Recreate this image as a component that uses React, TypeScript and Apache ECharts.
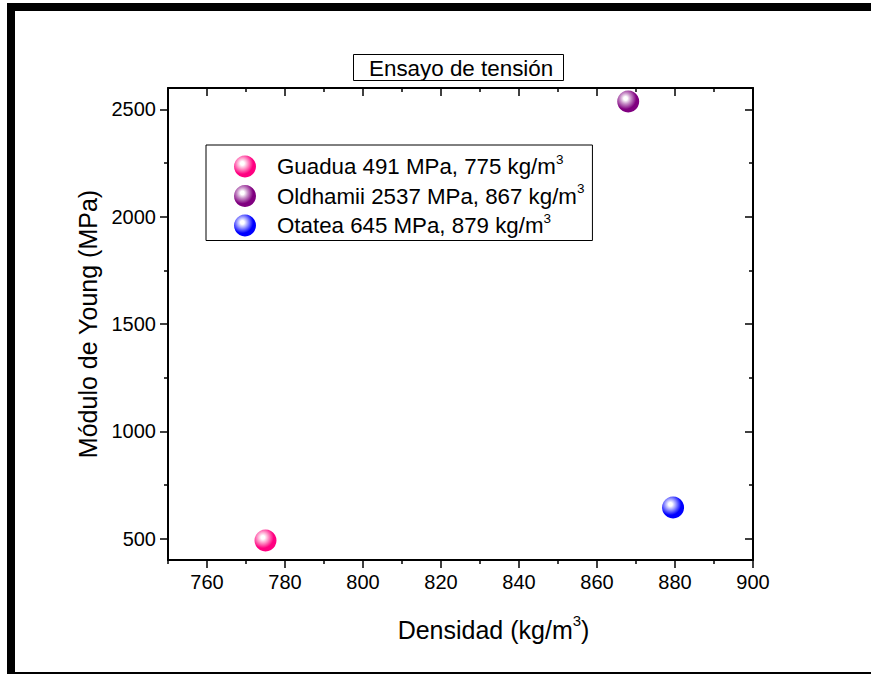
import React, { useEffect, useRef } from "react";
import * as echarts from "echarts";

const speciesNames = ["Guadua", "Oldhamii", "Otatea"];
const densities = [775, 868, 879.5];
const youngModulus = [491, 2537, 645];
const legendTexts = [
  "Guadua 491 MPa, 775 kg/m",
  "Oldhamii 2537 MPa, 867 kg/m",
  "Otatea 645 MPa, 879 kg/m",
];
const baseColors = ["#FF0080", "#800080", "#0000FF"];
const lightColors = ["#FF9CCB", "#C890C8", "#9C9CFF"];

const xMajorTicks = [760, 780, 800, 820, 840, 860, 880, 900];
const xMinorTicks = [750, 770, 790, 810, 830, 850, 870, 890];
const yMajorTicks = [500, 1000, 1500, 2000, 2500];
const yMinorTicks = [750, 1250, 1750, 2250];

const FONT = "'Liberation Sans', Arial, sans-serif";

export default function App() {
  const ref = useRef<HTMLDivElement>(null);
  useEffect(() => {
    if (!ref.current) return;
    const chart = echarts.init(ref.current, null, { renderer: "svg" });

    const axisLine = { show: true, lineStyle: { color: "#000", width: 2 } };
    const tickStyle = { color: "#000", width: 1.5 };
    const xBase = { type: "value", min: 750, max: 900, splitLine: { show: false } };
    const yBase = { type: "value", min: 400, max: 2600, splitLine: { show: false } };

    const gradient = (i: number) => ({
      type: "radial",
      x: 0.38,
      y: 0.36,
      r: 0.7,
      colorStops: [
        { offset: 0, color: "#FFFFFF" },
        { offset: 0.12, color: "#FFFFFF" },
        { offset: 0.35, color: lightColors[i] },
        { offset: 0.7, color: baseColors[i] },
        { offset: 1, color: baseColors[i] },
      ],
    });

    chart.setOption({
      animation: false,
      backgroundColor: "#fff",
      textStyle: { fontFamily: FONT, color: "#000" },
      title: {
        text: "Ensayo de tensión",
        left: 353,
        top: 54,
        padding: [3, 11, 2, 16],
        borderColor: "#000",
        borderWidth: 1,
        textStyle: { fontFamily: FONT, fontSize: 22.4, fontWeight: "normal", color: "#000" },
      },
      graphic: [
        { type: "rect", shape: { x: 7, y: 3, width: 864, height: 8 }, style: { fill: "#000" } },
        { type: "rect", shape: { x: 7, y: 3, width: 8, height: 671 }, style: { fill: "#000" } },
        { type: "rect", shape: { x: 15, y: 672, width: 856, height: 2 }, style: { fill: "#000" } },
      ],
      legend: {
        orient: "vertical",
        left: 206,
        top: 145,
        padding: [7, 8, 4, 28],
        borderColor: "#000",
        borderWidth: 1,
        itemWidth: 54,
        itemHeight: 22,
        itemGap: 4,
        icon: "circle",
        data: speciesNames,
        formatter: (name: string) => {
          const i = speciesNames.indexOf(name);
          return `{t|${legendTexts[i]}}{s|3}`;
        },
        textStyle: {
          fontFamily: FONT,
          color: "#000",
          rich: {
            t: { fontSize: 22.3, fontFamily: FONT, color: "#000", lineHeight: 29 },
            s: { fontSize: 13.5, fontFamily: FONT, color: "#000", verticalAlign: "top", lineHeight: 14 },
          },
        },
      },
      grid: { left: 168, top: 88, right: 118, bottom: 114, containLabel: false },
      xAxis: [
        {
          ...xBase,
          position: "bottom",
          axisLine,
          axisTick: { show: true, inside: false, length: 8, lineStyle: tickStyle, customValues: xMajorTicks },
          axisLabel: { show: true, customValues: xMajorTicks, fontSize: 20, fontFamily: FONT, color: "#000", margin: 12, formatter: (v: number) => String(v) },
          name: "{t|Densidad (kg/m}{s|3}{t|)}",
          nameLocation: "middle",
          nameGap: 53,
          nameTextStyle: {
            padding: [0, 0, 0, 66],
            rich: {
              t: { fontSize: 25, fontFamily: FONT, color: "#000", lineHeight: 34 },
              s: { fontSize: 15, fontFamily: FONT, color: "#000", verticalAlign: "top", lineHeight: 15 },
            },
          },
        },
        {
          ...xBase,
          position: "bottom",
          axisLine: { show: false },
          axisTick: { show: true, inside: false, length: 4, lineStyle: tickStyle, customValues: xMinorTicks },
          axisLabel: { show: false },
        },
        {
          ...xBase,
          position: "top",
          axisLine,
          axisTick: { show: true, inside: true, length: 8, lineStyle: tickStyle, customValues: xMajorTicks },
          axisLabel: { show: false },
        },
        {
          ...xBase,
          position: "top",
          axisLine: { show: false },
          axisTick: { show: true, inside: true, length: 4, lineStyle: tickStyle, customValues: xMinorTicks },
          axisLabel: { show: false },
        },
      ],
      yAxis: [
        {
          ...yBase,
          position: "left",
          axisLine,
          axisTick: { show: true, inside: false, length: 8, lineStyle: tickStyle, customValues: yMajorTicks },
          axisLabel: { show: true, customValues: yMajorTicks, fontSize: 20, fontFamily: FONT, color: "#000", margin: 12, formatter: (v: number) => String(v) },
          name: "Módulo de Young (MPa)",
          nameLocation: "middle",
          nameGap: 61,
          nameTextStyle: { fontSize: 25, fontFamily: FONT, color: "#000" },
        },
        {
          ...yBase,
          position: "left",
          axisLine: { show: false },
          axisTick: { show: true, inside: false, length: 4, lineStyle: tickStyle, customValues: yMinorTicks },
          axisLabel: { show: false },
        },
        {
          ...yBase,
          position: "right",
          axisLine,
          axisTick: { show: true, inside: true, length: 8, lineStyle: tickStyle, customValues: yMajorTicks },
          axisLabel: { show: false },
        },
        {
          ...yBase,
          position: "right",
          axisLine: { show: false },
          axisTick: { show: true, inside: true, length: 4, lineStyle: tickStyle, customValues: yMinorTicks },
          axisLabel: { show: false },
        },
      ],
      series: speciesNames.map((name, i) => ({
        name,
        type: "scatter",
        xAxisIndex: 0,
        yAxisIndex: 0,
        symbol: "circle",
        symbolSize: 22,
        itemStyle: { color: gradient(i), opacity: 1 },
        emphasis: { disabled: true },
        data: [[densities[i], youngModulus[i]]],
      })),
    });
    return () => chart.dispose();
  }, []);
  return (
    <div
      ref={ref}
      style={{ position: "absolute", left: 0, top: 0, width: 871, height: 674 }}
    />
  );
}
